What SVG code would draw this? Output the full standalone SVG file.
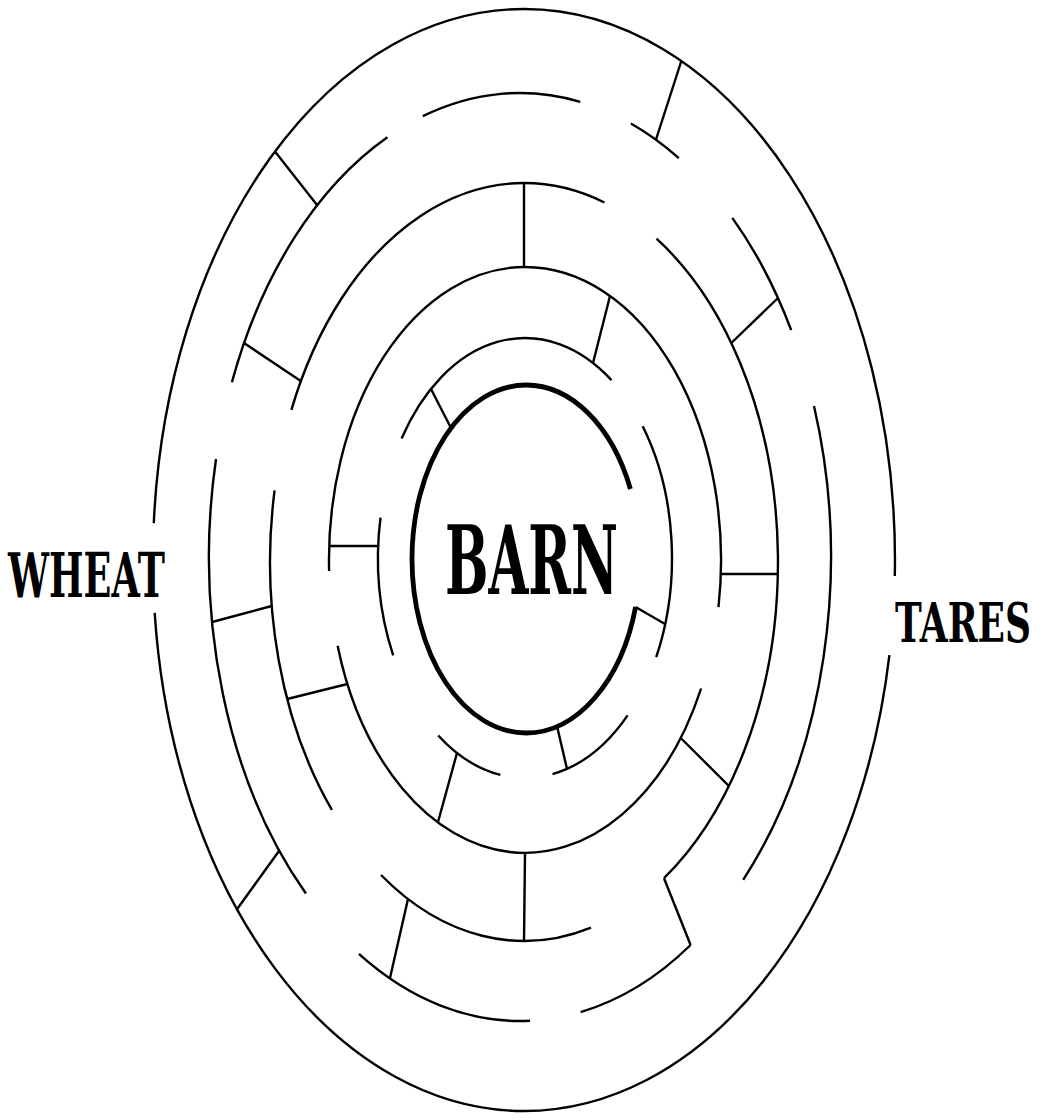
<svg xmlns="http://www.w3.org/2000/svg" width="1044" height="1120" viewBox="0 0 1044 1120">
<style>
.w{fill:none;stroke:#000;stroke-width:2.4;stroke-linecap:butt}
.b{fill:none;stroke:#000;stroke-width:4.8}
.t{font-family:"DejaVu Serif","Liberation Serif",serif;font-weight:bold;fill:#000}
</style>
<rect width="1044" height="1120" fill="#fff"/>
<g id="ring1">
<path class="w" d="M154.7,612.8 A371,551 0 0 0 524,1111 A371,551 0 0 0 889.4,655.1"/>
<path class="w" d="M894.8,576 A371,551 0 0 0 524,9 A371,551 0 0 0 153.8,523.1"/>
</g>
<g id="ring2">
<path class="w" d="M422.8,116.2 A311,464 0 0 1 580.3,101.8"/>
<path class="w" d="M630.9,123.5 A311,464 0 0 1 678.8,158.1"/>
<path class="w" d="M732.3,217.9 A311,464 0 0 1 791.2,330.2"/>
<path class="w" d="M814,406 A311,464 0 0 1 743.2,879.8"/>
<path class="w" d="M690.6,945 A311,464 0 0 1 580.6,1012.1"/>
<path class="w" d="M530,1020.8 A311,464 0 0 1 358.9,953.9"/>
<path class="w" d="M305.9,893.5 A311,464 0 0 1 216,459"/>
<path class="w" d="M231.9,382.3 A311,464 0 0 1 387.4,137.3"/>
</g>
<g id="ring3">
<path class="w" d="M291.4,409.9 A254,379 0 0 1 604.4,202.5"/>
<path class="w" d="M656.5,238.7 A254,379 0 0 1 664,878.2"/>
<path class="w" d="M381,875 A254,379 0 0 0 591,927.6"/>
<path class="w" d="M274.6,490.3 A254,379 0 0 0 331.9,809.9"/>
</g>
<g id="ring4">
<path class="w" d="M329.1,571 A196,293 0 0 1 525,267 A196,293 0 0 1 718.5,607.1"/>
<path class="w" d="M337.6,645.7 A196,293 0 0 0 701.1,688.5"/>
</g>
<g id="ring5">
<path class="w" d="M401.6,438.5 A147,220 0 0 1 611.5,380.1"/>
<path class="w" d="M642.7,426.3 A147,220 0 0 1 656.2,657.2"/>
<path class="w" d="M552.5,774.1 A147,220 0 0 0 627.6,715.4"/>
<path class="w" d="M438.2,735.5 A147,220 0 0 0 500.4,774.9"/>
<path class="w" d="M380.5,517.7 A147,220 0 0 0 393.2,655.4"/>
</g>
<g id="barn">
<path class="b" d="M630.4,489 A114,174 0 0 0 526,385 A114,174 0 0 0 412,559 A114,174 0 0 0 526,733 A114,174 0 0 0 635.6,607"/>
<text class="t" transform="translate(445,594) scale(0.536,1)" font-size="96" textLength="323" lengthAdjust="spacingAndGlyphs">BARN</text>
</g>
<g id="connectors">
<path class="w" d="M275,151.5 L317,205"/>
<path class="w" d="M681,62 L656,139.5"/>
<path class="w" d="M237,909.2 L279,851"/>
<path class="w" d="M244,343 L300.8,381"/>
<path class="w" d="M212.1,622 L271.7,606"/>
<path class="w" d="M778,298 L731.3,343"/>
<path class="w" d="M664,878.2 L690.6,945"/>
<path class="w" d="M408,899 L390,978"/>
<path class="w" d="M524,183 L524,267"/>
<path class="w" d="M525,853 L524,941"/>
<path class="w" d="M720.8,574 L777.9,574"/>
<path class="w" d="M680.7,738 L728.9,786"/>
<path class="w" d="M287.2,699 L347.4,684"/>
<path class="w" d="M329.2,546 L378.2,546"/>
<path class="w" d="M610,296 L593,363"/>
<path class="w" d="M438,822 L457,753"/>
<path class="w" d="M431,389 L451,428"/>
<path class="w" d="M557,726 L567,769"/>
<path class="w" d="M635.6,607 L665,624"/>
</g>
<g id="labels">
<text class="t" transform="translate(8,597) scale(0.588,1)" font-size="62" textLength="267" lengthAdjust="spacingAndGlyphs">WHEAT</text>
<text class="t" transform="translate(895,642) scale(0.66,1)" font-size="55" textLength="206" lengthAdjust="spacingAndGlyphs">TARES</text>
</g>
</svg>
